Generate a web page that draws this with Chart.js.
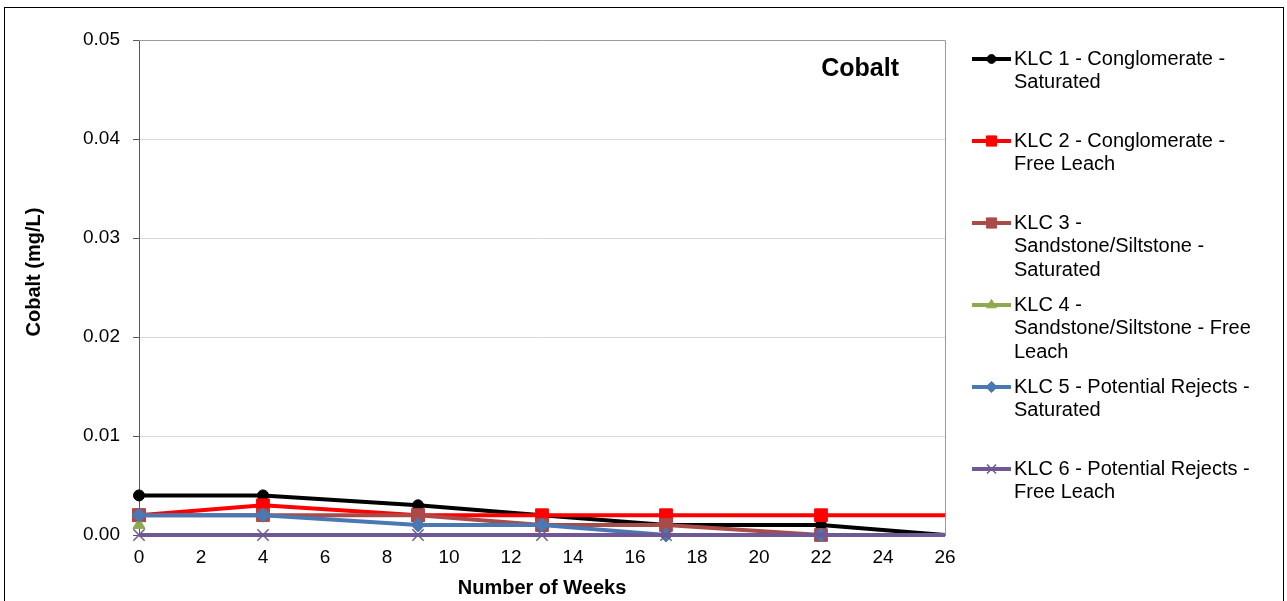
<!DOCTYPE html>
<html>
<head>
<meta charset="utf-8">
<script src="https://cdn.jsdelivr.net/npm/chart.js@4.4.1/dist/chart.umd.min.js"></script>
<style>
  html, body { margin: 0; padding: 0; background: #fff; }
  #wrap { width: 1287px; height: 601px; position: relative; }
</style>
</head>
<body>
<div id="wrap"><canvas id="c" width="1287" height="601"></canvas></div>
<script>
// Sampling weeks and cobalt concentrations (mg/L)
const weeks = [0, 4, 9, 13, 17, 22, 26];
const klc1 = [0.004, 0.004, 0.003, 0.002, 0.001, 0.001, 0.000];
const klc2 = [0.002, 0.003, 0.002, 0.002, 0.002, 0.002, 0.002];
const klc3 = [0.002, 0.002, 0.002, 0.001, 0.001, 0.000, 0.000];
const klc4 = [0.001, null, null, null, null, null, null];
const klc5 = [0.002, 0.002, 0.001, 0.001, 0.000, 0.000, 0.000];
const klc6 = [0.000, 0.000, 0.000, 0.000, 0.000, 0.000, 0.000];

const seriesNames = [
  ['KLC 1 - Conglomerate -', 'Saturated'],
  ['KLC 2 - Conglomerate -', 'Free Leach'],
  ['KLC 3 -', 'Sandstone/Siltstone -', 'Saturated'],
  ['KLC 4 -', 'Sandstone/Siltstone - Free', 'Leach'],
  ['KLC 5 - Potential Rejects -', 'Saturated'],
  ['KLC 6 - Potential Rejects -', 'Free Leach']
];
const yTicks = [0, 0.01, 0.02, 0.03, 0.04, 0.05];
const xTicks = [0, 2, 4, 6, 8, 10, 12, 14, 16, 18, 20, 22, 24, 26];
const chartTitle = 'Cobalt';
const yTitle = 'Cobalt (mg/L)';
const xTitle = 'Number of Weeks';

const FONT = "'Liberation Sans', Arial, sans-serif";
const styles = [
  { color: '#000000', point: 'circle', r: 5.5 },
  { color: '#FF0000', point: 'rect', r: 9 },
  { color: '#A94C49', point: 'rect', r: 9 },
  { color: '#8DAA4E', point: 'triangle', r: 7 },
  { color: '#4A78B2', point: 'rectRot', r: 7 },
  { color: '#6F5893', point: 'crossRot', r: 8 }
];
const seriesValues = [klc1, klc2, klc3, klc4, klc5, klc6];

const lastIdx = weeks.length - 1;
const datasets = seriesValues.map((vals, i) => ({
  label: seriesNames[i].join(' '),
  data: weeks.map((w, k) => ({ x: w, y: vals[k] })),
  borderColor: styles[i].color,
  backgroundColor: styles[i].color,
  pointBackgroundColor: styles[i].color,
  pointBorderColor: styles[i].color,
  pointBorderWidth: styles[i].point === 'crossRot' ? 1.5 : 1,
  borderWidth: 4,
  pointStyle: styles[i].point,
  pointRadius: ctx => (ctx.dataIndex === lastIdx ? 0 : styles[i].r),
  tension: 0,
  spanGaps: false,
  clip: false,
  order: seriesValues.length - i
}));

// Frame, in-plot title, axis titles and the wrapped legend
const decorations = {
  id: 'decorations',
  beforeDraw(chart) {
    const ctx = chart.ctx;
    ctx.save();
    ctx.fillStyle = '#fff';
    ctx.fillRect(0, 0, chart.width, chart.height);
    ctx.strokeStyle = '#000';
    ctx.lineWidth = 1;
    ctx.strokeRect(4.5, 7.5, 1279, 620);
    ctx.restore();
  },
  beforeDatasetsDraw(chart) {
    const ctx = chart.ctx;
    const a = chart.chartArea;
    ctx.save();
    // plot frame: top and right edges
    ctx.strokeStyle = '#9a9a9a';
    ctx.lineWidth = 1;
    ctx.beginPath();
    ctx.moveTo(a.left, Math.round(a.top) + 0.5);
    ctx.lineTo(Math.round(a.right) + 0.5, Math.round(a.top) + 0.5);
    ctx.lineTo(Math.round(a.right) + 0.5, a.bottom);
    ctx.stroke();
    ctx.restore();
  },
  afterDatasetsDraw(chart) {
    const ctx = chart.ctx;
    const a = chart.chartArea;
    ctx.save();
    // chart title inside plot
    ctx.fillStyle = '#000';
    ctx.font = 'bold 25px ' + FONT;
    ctx.textAlign = 'right';
    ctx.textBaseline = 'middle';
    ctx.fillText(chartTitle, 899, 69);

    // axis titles
    ctx.font = 'bold 20px ' + FONT;
    ctx.textAlign = 'center';
    ctx.fillText(xTitle, (a.left + a.right) / 2, 588);
    ctx.save();
    ctx.translate(34, 272);
    ctx.rotate(-Math.PI / 2);
    ctx.fillText(yTitle, 0, 0);
    ctx.restore();

    // legend
    ctx.font = '20px ' + FONT;
    ctx.textAlign = 'left';
    ctx.textBaseline = 'middle';
    const x0 = 972, x1 = 1011, tx = 1014, lh = 23.5;
    chart.data.datasets.forEach((ds, i) => {
      const y = 59 + i * 82;
      ctx.strokeStyle = ds.borderColor;
      ctx.lineWidth = 4;
      ctx.beginPath();
      ctx.moveTo(x0, y);
      ctx.lineTo(x1, y);
      ctx.stroke();
      ctx.fillStyle = ds.borderColor;
      ctx.strokeStyle = ds.borderColor;
      ctx.lineWidth = ds.pointBorderWidth;
      Chart.helpers.drawPoint(ctx, {
        pointStyle: ds.pointStyle,
        radius: styles[i].r * 0.8,
        rotation: 0,
        borderWidth: ds.pointBorderWidth
      }, (x0 + x1) / 2, y);
      ctx.fillStyle = '#000';
      seriesNames[i].forEach((line, k) => ctx.fillText(line, tx, y + k * lh));
    });
    ctx.restore();
  }
};

new Chart(document.getElementById('c'), {
  type: 'line',
  data: { datasets },
  options: {
    responsive: false,
    animation: false,
    events: [],
    layout: { padding: { top: 40, right: 342, left: 0, bottom: 0 } },
    plugins: { legend: { display: false }, tooltip: { enabled: false } },
    scales: {
      x: {
        type: 'linear',
        min: 0,
        max: 26,
        afterFit: s => { s.height = 66; },
        afterBuildTicks: s => { s.ticks = xTicks.map(v => ({ value: v })); },
        grid: { display: true, drawOnChartArea: false, drawTicks: false, color: '#7f7f7f' },
        border: { display: true, color: '#7f7f7f', width: 1 },
        ticks: {
          padding: 11,
          color: '#000',
          font: { family: FONT, size: 19 },
          maxRotation: 0,
          autoSkip: false
        }
      },
      y: {
        min: 0,
        max: 0.05,
        afterFit: s => { s.width = 139; },
        afterBuildTicks: s => { s.ticks = yTicks.map(v => ({ value: v })); },
        grid: {
          color: '#d9d9d9',
          lineWidth: 1,
          drawTicks: true,
          tickLength: 6,
          tickColor: '#595959'
        },
        border: { display: true, color: '#595959', width: 1 },
        ticks: {
          padding: 13,
          color: '#000',
          font: { family: FONT, size: 19 },
          callback: v => v.toFixed(2)
        }
      }
    }
  },
  plugins: [decorations]
});
</script>
</body>
</html>
